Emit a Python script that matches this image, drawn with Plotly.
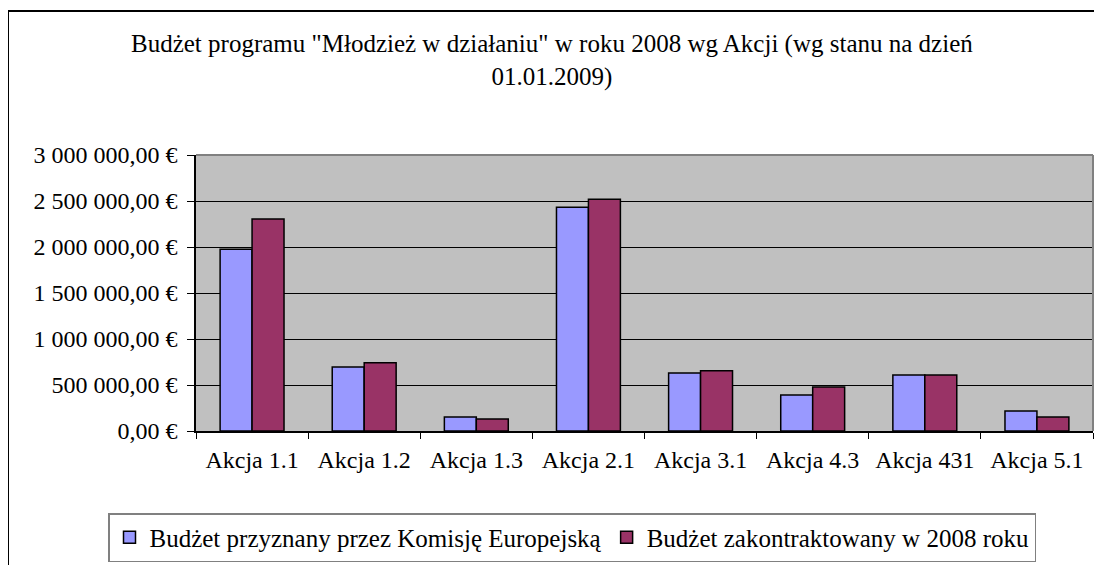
import plotly.graph_objects as go

categories = ["Akcja 1.1", "Akcja 1.2", "Akcja 1.3", "Akcja 2.1", "Akcja 3.1", "Akcja 4.3", "Akcja 431", "Akcja 5.1"]
series_names = ["Budżet przyznany przez Komisję Europejską", "Budżet zakontraktowany w 2008 roku"]
budget_granted = [1975000, 696000, 152000, 2431000, 630000, 391000, 609000, 217000]
budget_contracted = [2304000, 743000, 130000, 2518000, 656000, 478000, 609000, 152000]
tick_values = [0, 500000, 1000000, 1500000, 2000000, 2500000, 3000000]
tick_labels = ["0,00 €", "500 000,00 €", "1 000 000,00 €", "1 500 000,00 €",
               "2 000 000,00 €", "2 500 000,00 €", "3 000 000,00 €"]
title_text = 'Budżet programu "Młodzież w działaniu" w roku 2008 wg Akcji (wg stanu na dzień<br>01.01.2009)'

FONT = "Liberation Serif"
FS_AX = 24
FS_TITLE = 25
FS_LEG = 25

fig = go.Figure()
fig.add_trace(go.Bar(x=categories, y=budget_granted, name=series_names[0],
                     marker=dict(color="#9999FF", line=dict(color="#000000", width=1.5))))
fig.add_trace(go.Bar(x=categories, y=budget_contracted, name=series_names[1],
                     marker=dict(color="#993366", line=dict(color="#000000", width=1.5))))

OFF = 8  # page body margin
W, H = 1102 - OFF, 565 - OFF
L, R, T, B = 196 - OFF, 1093 - OFF, 155 - OFF, 431 - OFF
pw, ph = R - L, B - T

def px(x):
    return (x - OFF - L) / pw

def py(y):
    return (B - (y - OFF)) / ph

fig.update_layout(
    width=W, height=H,
    margin=dict(l=L, r=W - R, t=T, b=H - B, pad=0, autoexpand=False),
    paper_bgcolor="white",
    plot_bgcolor="#C0C0C0",
    font=dict(family=FONT, size=FS_AX, color="#000000"),
    barmode="group",
    bargap=0.43,
    bargroupgap=0,
    showlegend=True,
    legend=dict(orientation="h", x=px(108), xanchor="left",
                y=py(513), yanchor="top",
                bordercolor="#808080", borderwidth=1.5, bgcolor="white",
                font=dict(family=FONT, size=FS_LEG), itemwidth=30,
                tracegroupgap=0),
    annotations=[dict(text=title_text, xref="paper", yref="paper",
                      x=px(552), y=py(28), xanchor="center", yanchor="top",
                      showarrow=False, font=dict(family=FONT, size=FS_TITLE),
                      align="center")],
    shapes=[
        dict(type="rect", xref="paper", yref="paper",
             x0=px(8), x1=px(1115), y0=py(580), y1=py(11),
             line=dict(color="#000000", width=2), layer="below"),
        dict(type="line", xref="paper", yref="paper", x0=0, x1=1, y0=1, y1=1,
             line=dict(color="#808080", width=2)),
        dict(type="line", xref="paper", yref="paper", x0=1, x1=1, y0=0, y1=1,
             line=dict(color="#808080", width=2)),
    ],
)

fig.update_xaxes(
    type="category", showline=True, linecolor="#000000", linewidth=1.5,
    ticks="outside", tickson="boundaries", ticklen=6, tickcolor="#000000",
    tickfont=dict(family=FONT, size=FS_AX), showgrid=False,
    ticklabelstandoff=6,
)
fig.update_yaxes(
    range=[0, 3000000], tickvals=tick_values, ticktext=tick_labels,
    showline=True, linecolor="#000000", linewidth=1.5,
    ticks="outside", ticklen=7, tickcolor="#000000",
    showgrid=True, gridcolor="#000000", gridwidth=1,
    zeroline=False, tickfont=dict(family=FONT, size=FS_AX),
    ticklabelstandoff=5,
)

fig.write_html("out.html")
